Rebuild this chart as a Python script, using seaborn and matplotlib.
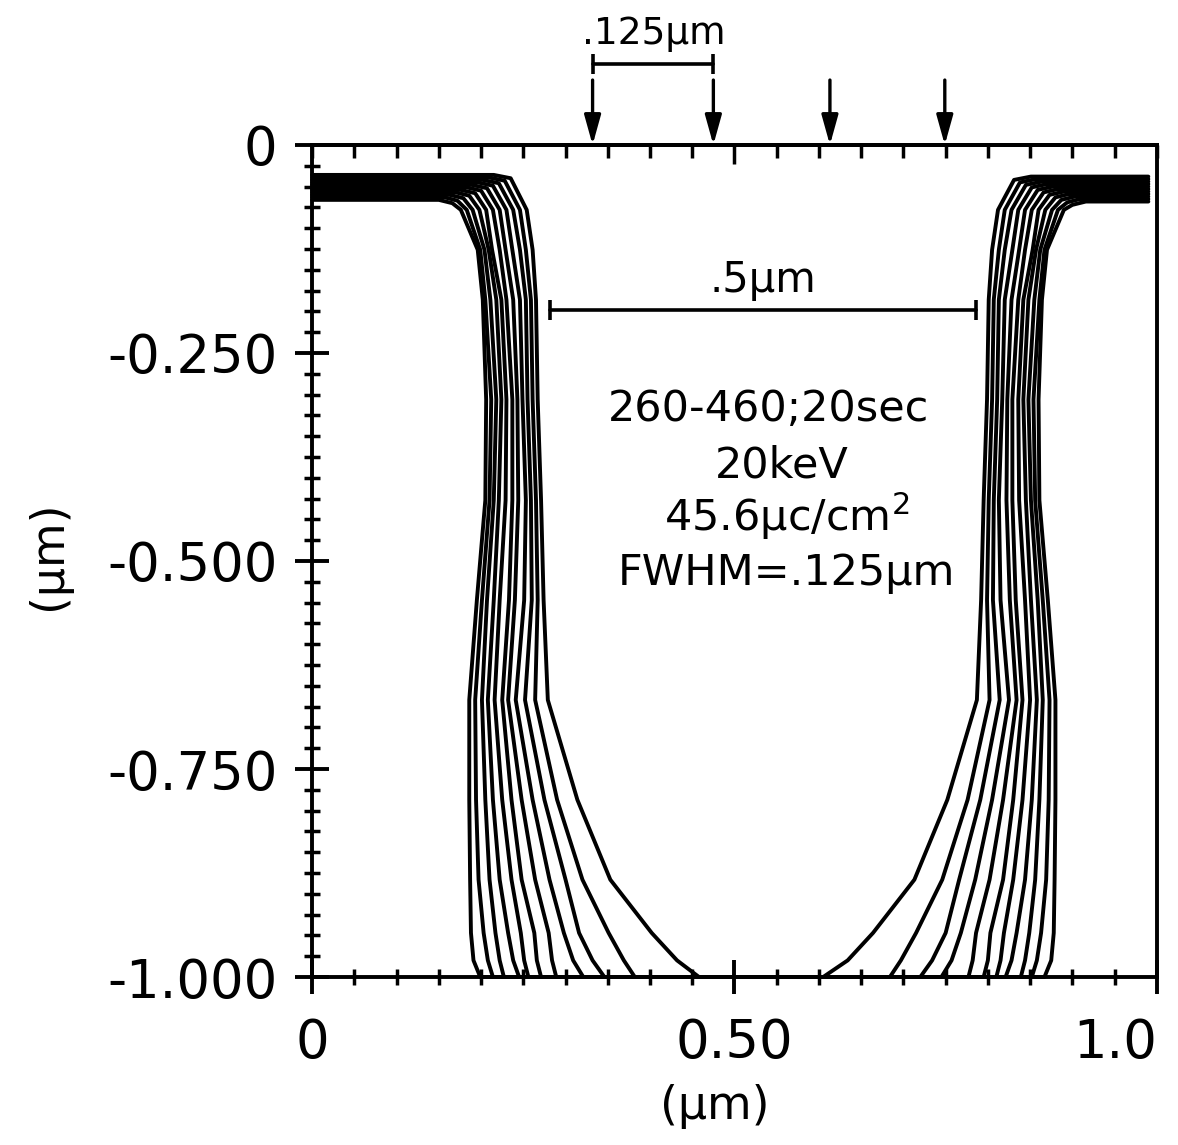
import numpy as np
import pandas as pd
import matplotlib
matplotlib.use("Agg")
import matplotlib.pyplot as plt
from matplotlib.ticker import MultipleLocator
import seaborn as sns

# ---------------- data ----------------
# depth levels (µm) at which each wall position was read
WALL_Y = [-0.078, -0.126, -0.186, -0.306, -0.427, -0.547, -0.667, -0.787, -0.883, -0.947, -0.980, -1.0]

# curves ordered from most developed (0) to least developed (10)
TOP_Y_LEFT = [-0.066, -0.063, -0.060, -0.057, -0.054, -0.051, -0.048, -0.045, -0.042, -0.039, -0.036]
TOP_Y_RIGHT = [-0.068, -0.065, -0.062, -0.059, -0.056, -0.053, -0.050, -0.047, -0.044, -0.041, -0.038]
BEND_X_LEFT = [0.150, 0.157, 0.163, 0.170, 0.176, 0.183, 0.189, 0.196, 0.202, 0.209, 0.215]
BEND_X_RIGHT = [0.916, 0.909, 0.903, 0.896, 0.890, 0.883, 0.877, 0.870, 0.864, 0.857, 0.851]
CORNER_X_LEFT = [0.166, 0.172, 0.179, 0.186, 0.193, 0.200, 0.207, 0.214, 0.221, 0.228, 0.235]
CORNER_Y_LEFT = [-0.070, -0.067, -0.064, -0.061, -0.058, -0.055, -0.052, -0.049, -0.046, -0.043, -0.040]
CORNER_X_RIGHT = [0.900, 0.894, 0.887, 0.880, 0.873, 0.866, 0.859, 0.852, 0.845, 0.838, 0.831]
CORNER_Y_RIGHT = [-0.072, -0.069, -0.066, -0.063, -0.060, -0.057, -0.054, -0.051, -0.048, -0.045, -0.042]

LEFT_WALLS = [
    [0.176, 0.196, 0.202, 0.206, 0.205, 0.195, 0.186, 0.186, 0.187, 0.188, 0.191, 0.199],
    [0.183, 0.199, 0.205, 0.212, 0.210, 0.201, 0.193, 0.194, 0.197, 0.203, 0.208, 0.214],
    [0.190, 0.204, 0.211, 0.218, 0.215, 0.207, 0.201, 0.205, 0.210, 0.217, 0.222, 0.227],
    [0.198, 0.209, 0.218, 0.224, 0.221, 0.215, 0.208, 0.214, 0.222, 0.232, 0.238, 0.245],
    [0.206, 0.213, 0.224, 0.230, 0.229, 0.222, 0.216, 0.225, 0.236, 0.247, 0.251, 0.256],
    [0.214, 0.222, 0.230, 0.237, 0.237, 0.233, 0.225, 0.236, 0.248, 0.263, 0.266, 0.271],
    [0.222, 0.229, 0.238, 0.243, 0.244, 0.240, 0.232, 0.248, 0.264, 0.280, 0.284, 0.289],
    [0.230, 0.237, 0.246, 0.249, 0.253, 0.251, 0.241, 0.261, 0.281, 0.298, 0.309, 0.321],
    [0.238, 0.246, 0.253, 0.255, 0.259, 0.260, 0.252, 0.275, 0.300, 0.316, 0.332, 0.346],
    [0.246, 0.253, 0.259, 0.261, 0.265, 0.267, 0.264, 0.290, 0.320, 0.351, 0.369, 0.382],
    [0.254, 0.261, 0.265, 0.267, 0.271, 0.274, 0.279, 0.314, 0.353, 0.402, 0.432, 0.458],
]
RIGHT_WALLS = [
    [0.890, 0.870, 0.864, 0.860, 0.861, 0.871, 0.880, 0.880, 0.879, 0.878, 0.875, 0.867],
    [0.883, 0.867, 0.861, 0.854, 0.856, 0.865, 0.873, 0.872, 0.869, 0.863, 0.858, 0.852],
    [0.876, 0.862, 0.855, 0.848, 0.851, 0.859, 0.865, 0.861, 0.856, 0.849, 0.844, 0.839],
    [0.868, 0.857, 0.848, 0.842, 0.845, 0.851, 0.858, 0.852, 0.844, 0.834, 0.828, 0.821],
    [0.860, 0.853, 0.842, 0.836, 0.837, 0.844, 0.850, 0.841, 0.830, 0.819, 0.815, 0.810],
    [0.852, 0.844, 0.836, 0.829, 0.829, 0.833, 0.841, 0.830, 0.818, 0.803, 0.800, 0.795],
    [0.844, 0.837, 0.828, 0.823, 0.822, 0.826, 0.834, 0.818, 0.802, 0.786, 0.782, 0.777],
    [0.836, 0.829, 0.820, 0.817, 0.813, 0.815, 0.825, 0.805, 0.785, 0.768, 0.757, 0.745],
    [0.828, 0.820, 0.813, 0.811, 0.807, 0.806, 0.814, 0.791, 0.766, 0.750, 0.734, 0.720],
    [0.820, 0.813, 0.807, 0.805, 0.801, 0.799, 0.802, 0.776, 0.746, 0.715, 0.697, 0.684],
    [0.812, 0.805, 0.801, 0.799, 0.795, 0.792, 0.787, 0.752, 0.713, 0.664, 0.634, 0.605],
]
FLAT_X_START = 0.0
FLAT_X_END = 0.99

Y_TICKS = [0.0, -0.25, -0.5, -0.75, -1.0]
Y_TICK_LABELS = ["0", "-0.250", "-0.500", "-0.750", "-1.000"]
X_TICKS = [0.0, 0.5, 1.0]
X_TICK_LABELS = ["0", "0.50", "1.0"]

ARROW_X = [0.332, 0.475, 0.613, 0.749]
SMALL_BAR_X = [0.333, 0.475]
SMALL_BAR_Y = 0.097
SMALL_BAR_LABEL = ".125\u03bcm"
BIG_BAR_X = [0.282, 0.786]
BIG_BAR_Y = -0.198
BIG_BAR_LABEL = ".5\u03bcm"
INFO_LINES = ["260-460;20sec", "20keV", "45.6\u03bcc/cm$^2$", "FWHM=.125\u03bcm"]
INFO_X = [0.540, 0.556, 0.562, 0.562]
INFO_Y = [-0.317, -0.385, -0.446, -0.514]

# ---------------- build long table ----------------
rows = []
for k in range(len(LEFT_WALLS)):
    pts = [(FLAT_X_START, TOP_Y_LEFT[k]), (BEND_X_LEFT[k], TOP_Y_LEFT[k]),
           (CORNER_X_LEFT[k], CORNER_Y_LEFT[k])]
    pts += list(zip(LEFT_WALLS[k], WALL_Y))
    pts += list(zip(RIGHT_WALLS[k][::-1], WALL_Y[::-1]))
    pts += [(CORNER_X_RIGHT[k], CORNER_Y_RIGHT[k]), (BEND_X_RIGHT[k], TOP_Y_RIGHT[k]),
            (FLAT_X_END, TOP_Y_RIGHT[k])]
    for i, (x, y) in enumerate(pts):
        rows.append({"curve": k, "order": i, "x": x, "y": y})
df = pd.DataFrame(rows)

# ---------------- figure ----------------
sns.set_style("ticks")
plt.rcParams["font.family"] = ["DejaVu Sans"]
plt.rcParams["mathtext.default"] = "regular"
for key in ["text.color", "axes.labelcolor", "xtick.color", "ytick.color", "axes.edgecolor"]:
    plt.rcParams[key] = "black"

fig = plt.figure(figsize=(11.78, 11.45), dpi=100)
ax = fig.add_axes([0.265, 0.1467, 0.717, 0.7267])

sns.lineplot(data=df, x="x", y="y", units="curve", estimator=None, sort=False,
             color="black", linewidth=2.8, legend=False, ax=ax, clip_on=False)

ax.set_xlim(0, 1.0)
ax.set_ylim(-1.0, 0.0)

for s in ax.spines.values():
    s.set_linewidth(2.8)
    s.set_color("black")

# left axis
ax.set_yticks(Y_TICKS, Y_TICK_LABELS)
ax.yaxis.set_minor_locator(MultipleLocator(0.025))
ax.tick_params(axis="y", which="major", direction="inout", length=24, width=2.8,
               labelsize=38, pad=13, right=False)
ax.tick_params(axis="y", which="minor", direction="inout", length=12, width=2.5, right=False)

# bottom axis
ax.set_xticks(X_TICKS, X_TICK_LABELS)
ax.xaxis.set_minor_locator(MultipleLocator(0.05))
ax.tick_params(axis="x", which="major", direction="inout", length=25, width=2.8,
               labelsize=38, pad=16, top=False)
ax.tick_params(axis="x", which="minor", direction="inout", length=11, width=2.5, top=False)
ax.get_xticklabels()[-1].set_ha("right")

# top axis: inward ticks only
sec = ax.secondary_xaxis("top")
sec.set_xticks([0.5], [""])
sec.xaxis.set_minor_locator(MultipleLocator(0.05))
sec.tick_params(which="major", direction="in", length=14, width=2.5, color="black")
sec.tick_params(which="minor", direction="in", length=9, width=2.5, color="black")
sec.spines["top"].set_linewidth(2.8)
sec.spines["top"].set_color("black")

# axis labels
ax.set_xlabel("(\u03bcm)", fontsize=33)
ax.set_ylabel("(\u03bcm)", fontsize=33)
ax.xaxis.set_label_coords(0.477, -0.128)
ax.yaxis.set_label_coords(-0.285, 0.507)

# scale bars and arrows
ax.plot(SMALL_BAR_X, [SMALL_BAR_Y] * 2, color="black", lw=2.6, marker="|", ms=14,
        mew=2.6, clip_on=False)
ax.text(np.mean(SMALL_BAR_X), SMALL_BAR_Y + 0.036, SMALL_BAR_LABEL, ha="center",
        va="center", fontsize=27, clip_on=False)
for xa in ARROW_X:
    ax.annotate("", xy=(xa, 0.0), xytext=(xa, 0.078), annotation_clip=False,
                arrowprops=dict(arrowstyle="-|>,head_length=0.9,head_width=0.25",
                                color="black", lw=2.4, shrinkA=0, shrinkB=0,
                                mutation_scale=20))

ax.plot(BIG_BAR_X, [BIG_BAR_Y] * 2, color="black", lw=2.6, marker="|", ms=14, mew=2.6)
ax.text(np.mean(BIG_BAR_X), BIG_BAR_Y + 0.036, BIG_BAR_LABEL, ha="center", va="center",
        fontsize=30)

for t, xx, yy in zip(INFO_LINES, INFO_X, INFO_Y):
    ax.text(xx, yy, t, ha="center", va="center", fontsize=31)

fig.savefig("out.png", dpi=100, facecolor="white")
